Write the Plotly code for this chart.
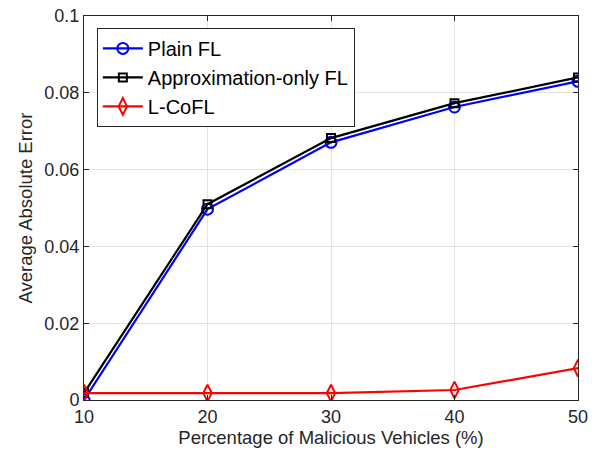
import plotly.graph_objects as go

x_vals = [10, 20, 30, 40, 50]
plain_fl = [0.0000, 0.0497, 0.0671, 0.0763, 0.0830]
approx_fl = [0.0018, 0.0510, 0.0682, 0.0773, 0.0840]
lcofl = [0.0018, 0.0018, 0.0018, 0.0026, 0.0083]

y_tickvals = [0, 0.02, 0.04, 0.06, 0.08, 0.1]
y_ticktext = ["0", "0.02", "0.04", "0.06", "0.08", "0.1"]
x_tickvals = [10, 20, 30, 40, 50]

FONT = "Liberation Sans, Arial, Helvetica"

fig = go.Figure()
fig.add_trace(go.Scatter(x=x_vals, y=plain_fl, name="Plain FL", mode="lines+markers",
                         line=dict(color="#0000ff", width=2.2),
                         marker=dict(symbol="circle-open", size=11, color="#0000ff", line=dict(width=2))))
fig.add_trace(go.Scatter(x=x_vals, y=approx_fl, name="Approximation-only FL", mode="lines+markers",
                         line=dict(color="#000000", width=2.2),
                         marker=dict(symbol="square-open", size=8, color="#000000", line=dict(width=2))))
fig.add_trace(go.Scatter(x=x_vals, y=lcofl, name="L-CoFL", mode="lines+markers",
                         line=dict(color="#ff0000", width=2.2),
                         marker=dict(symbol="diamond-tall-open", size=12, color="#ff0000", line=dict(width=2))))

axis_common = dict(showline=True, linecolor="#262626", linewidth=1, mirror="ticks",
                   ticks="inside", ticklen=5, tickcolor="#262626",
                   showgrid=True, gridcolor="#e3e3e3", gridwidth=1, zeroline=False,
                   ticklabeloverflow="allow", automargin=False,
                   tickfont=dict(family=FONT, size=18, color="#262626"))

fig.update_layout(
    width=597, height=460,
    margin=dict(l=84, r=19, t=16, b=60),
    paper_bgcolor="white", plot_bgcolor="white",
    font=dict(family=FONT, color="#262626"),
    xaxis=dict(range=[10, 50], tickvals=x_tickvals,
               title=dict(text="Percentage of Malicious Vehicles (%)", font=dict(size=18.5), standoff=4),
               **axis_common),
    yaxis=dict(range=[0, 0.1], tickvals=y_tickvals, ticktext=y_ticktext,
               title=dict(text="Average Absolute Error", font=dict(size=18.5), standoff=6),
               **axis_common),
    legend=dict(x=0.026, y=0.969, xanchor="left", yanchor="top",
                bgcolor="white", bordercolor="#262626", borderwidth=1,
                font=dict(family=FONT, size=20, color="#000000"),
                tracegroupgap=0, itemwidth=40),
    showlegend=True,
)

fig.write_html("out.html", config={"displayModeBar": False},
               post_script="document.body.style.margin='0';")
